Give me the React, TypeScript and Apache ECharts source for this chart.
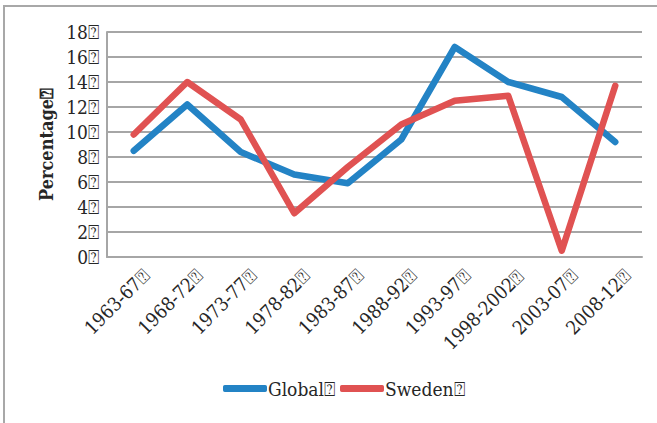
import React, { useEffect, useRef } from "react";
import * as echarts from "echarts";

const categories = ["1963-67", "1968-72", "1973-77", "1978-82", "1983-87", "1988-92", "1993-97", "1998-2002", "2003-07", "2008-12"];
const globalValues = [8.5, 12.2, 8.4, 6.6, 5.9, 9.4, 16.8, 14.0, 12.8, 9.2];
const swedenValues = [9.8, 14.0, 11.0, 3.5, 7.2, 10.6, 12.5, 12.9, 0.5, 13.7];
const BOX = "\u2370";
const FONT = "'DejaVu Serif Condensed', 'Liberation Serif', serif";

export default function App() {
  const ref = useRef<HTMLDivElement>(null);
  useEffect(() => {
    const chart = echarts.init(ref.current!, null, { renderer: "svg" });
    chart.setOption({
      animation: false,
      textStyle: { fontFamily: FONT },
      grid: { left: 107, right: 15, top: 32, bottom: 166, containLabel: false },
      graphic: [
        {
          type: "rect",
          shape: { x: 4, y: 6, width: 700, height: 500 },
          style: { fill: "none", stroke: "#a8a8a8", lineWidth: 2 },
          silent: true,
        },
      ],
      legend: {
        left: 218,
        top: 374,
        icon: "roundRect",
        itemWidth: 44,
        itemHeight: 7,
        itemGap: 5,
        textStyle: { fontFamily: FONT, fontSize: 19, color: "#262626", padding: [0, 0, 0, -4] },
        data: [
          { name: "Global" + BOX },
          { name: "Sweden" + BOX },
        ],
      },
      xAxis: {
        type: "category",
        data: categories.map((c) => c + BOX),
        boundaryGap: true,
        axisLine: { lineStyle: { color: "#a6a6a6", width: 2 } },
        axisTick: { show: false },
        axisLabel: {
          rotate: 45,
          interval: 0,
          margin: 14,
          verticalAlign: "top",
          padding: [0, -7, 0, 0],
          fontFamily: FONT,
          fontSize: 19,
          color: "#262626",
        },
      },
      yAxis: {
        type: "value",
        min: 0,
        max: 18,
        interval: 2,
        name: "Percentage" + BOX,
        nameLocation: "middle",
        nameRotate: 90,
        nameGap: 52,
        nameTextStyle: { fontFamily: FONT, fontSize: 18, fontWeight: "bold", color: "#262626" },
        axisLine: { show: true, lineStyle: { color: "#a6a6a6", width: 2 } },
        axisTick: { show: false },
        splitLine: { lineStyle: { color: "#a6a6a6", width: 2 } },
        axisLabel: { margin: 8, fontFamily: FONT, fontSize: 19, color: "#262626", formatter: (v: number) => v + BOX },
      },
      series: [
        {
          name: "Global" + BOX,
          type: "line",
          data: globalValues,
          showSymbol: false,
          symbol: "none",
          itemStyle: { color: "#2383c5" },
          lineStyle: { color: "#2383c5", width: 6.5, cap: "round", join: "round" },
        },
        {
          name: "Sweden" + BOX,
          type: "line",
          data: swedenValues,
          showSymbol: false,
          symbol: "none",
          itemStyle: { color: "#e05252" },
          lineStyle: { color: "#e05252", width: 6.5, cap: "round", join: "round" },
        },
      ],
    });
    return () => chart.dispose();
  }, []);
  return <div ref={ref} style={{ position: "absolute", left: 0, top: 0, width: 657, height: 423, background: "#fff" }} />;
}
